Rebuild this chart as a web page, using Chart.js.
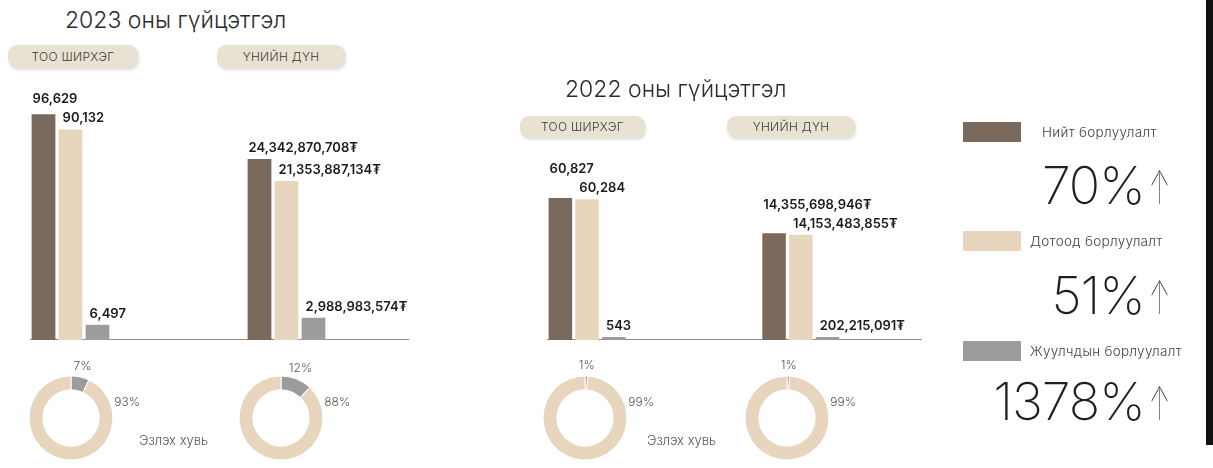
<!DOCTYPE html>
<html>
<head>
<meta charset="utf-8">
<script src="https://cdn.jsdelivr.net/npm/chart.js@4.4.1/dist/chart.umd.min.js"></script>
<style>
  html, body { margin: 0; padding: 0; background: #fff; }
  body { width: 1213px; height: 468px; position: relative; overflow: hidden; font-family: Inter, 'DejaVu Sans', sans-serif; color: #333; }
  .abs { position: absolute; }
  .title { font-size: 23px; font-weight: 300; color: #2b2b2b; white-space: nowrap; z-index: 2; }
  .pill { background: #e9e2d3; border-radius: 9px; box-shadow: 1px 2px 3px rgba(0,0,0,0.13);
          font-size: 12px; font-weight: 300; color: #3a3a3a; text-align: center; letter-spacing: 0.3px; z-index: 2; }
  .share-note { font-size: 13px; font-weight: 300; color: #555; white-space: nowrap; }
  .swatch { width: 58px; height: 20px; }
  .leg-text { font-size: 13.5px; font-weight: 300; color: #444; white-space: nowrap; letter-spacing: 0.3px; }
  .growth { font-size: 52px; font-weight: 200; color: #1e1e1e; white-space: nowrap; text-align: right; width: 300px; line-height: 1; letter-spacing: -1px; }
  .arrow { display: inline-block; font-size: 46px; font-weight: 100; transform: scaleX(0.55); transform-origin: left center; margin-left: 4px; margin-right: -14px; }
</style>
</head>
<body>

<div class="abs title" style="left:65px;top:6px">2023 оны гүйцэтгэл</div>
<div class="abs pill" style="left:8px;top:45px;width:130px;height:23px;line-height:23px" id="p23a"></div>
<div class="abs pill" style="left:217px;top:45px;width:128px;height:23px;line-height:23px" id="p23b"></div>

<div class="abs title" style="left:565px;top:75px">2022 оны гүйцэтгэл</div>
<div class="abs pill" style="left:520px;top:116px;width:125px;height:22px;line-height:22px" id="p22a"></div>
<div class="abs pill" style="left:727px;top:116px;width:128px;height:22px;line-height:22px" id="p22b"></div>

<div class="abs" style="left:30px;top:80px;width:398px;height:260px"><canvas id="bars2023"></canvas></div>
<div class="abs" style="left:547px;top:80px;width:394px;height:260px"><canvas id="bars2022"></canvas></div>

<div class="abs" style="left:-9px;top:353px;width:160px;height:130px"><canvas id="pie23a"></canvas></div>
<div class="abs" style="left:201px;top:353px;width:160px;height:130px"><canvas id="pie23b"></canvas></div>
<div class="abs" style="left:505px;top:353px;width:160px;height:130px"><canvas id="pie22a"></canvas></div>
<div class="abs" style="left:707px;top:353px;width:160px;height:130px"><canvas id="pie22b"></canvas></div>

<div class="abs share-note" style="left:139px;top:432px">Эзлэх хувь</div>
<div class="abs share-note" style="left:647px;top:432px">Эзлэх хувь</div>

<div id="legend"></div>
<div class="abs" style="left:1206px;top:0;width:7px;height:445px;background:#111"></div>

<script>
'use strict';

// ---- data ----
const seriesNames  = ['Нийт борлуулалт', 'Дотоод борлуулалт', 'Жуулчдын борлуулалт'];
const groupLabels  = ['ТОО ШИРХЭГ', 'ҮНИЙН ДҮН'];
const qty2023      = [96629, 90132, 6497];
const amount2023   = [24342870708, 21353887134, 2988983574];
const qty2022      = [60827, 60284, 543];
const amount2022   = [14355698946, 14153483855, 202215091];
const shareLabels  = ['Жуулчдын', 'Дотоод'];
const share2023Qty = [7, 93];
const share2023Amt = [12, 88];
const share2022Qty = [1, 99];
const share2022Amt = [1, 99];
const growthPct    = ['70%', '51%', '1378%'];

// ---- style ----
const COLORS = ['#7a695d', '#e7d6bd', '#9c9c9c'];
const SLOTS = 14;        // bar slots along the baseline
const AMOUNT_START = 8;  // slot where the amount group begins

document.getElementById('p23a').textContent = groupLabels[0];
document.getElementById('p23b').textContent = groupLabels[1];
document.getElementById('p22a').textContent = groupLabels[0];
document.getElementById('p22b').textContent = groupLabels[1];

const fmt = v => v.toLocaleString('en-US');

// value labels above bars; a label is lifted when the next bar is almost as tall
const barLabels = {
  id: 'barLabels',
  afterDatasetsDraw(chart) {
    const ctx = chart.ctx;
    ctx.save();
    ctx.font = '600 13px Inter, "DejaVu Sans", sans-serif';
    ctx.fillStyle = '#1b1b1b';
    ctx.textAlign = 'left';
    ctx.textBaseline = 'alphabetic';
    chart.data.datasets.forEach((ds, di) => {
      const items = [];
      chart.getDatasetMeta(di).data.forEach((el, i) => {
        const v = ds.data[i];
        if (v == null) return;
        items.push({
          txt: fmt(v) + (ds.yAxisID === 'yV' ? '₮' : ''),
          x: el.x - el.width / 2 + (items.length ? 4 : 1),
          y: el.y - 7
        });
      });
      for (let k = items.length - 1; k > 0; k--) {
        if (items[k - 1].y > items[k].y - 19) items[k - 1].y = items[k].y - 19;
      }
      items.forEach(it => ctx.fillText(it.txt, it.x, it.y));
    });
    ctx.restore();
  }
};

function buildBars(id, qty, amount) {
  const slots = [];
  const qtyData = [];
  const amtData = [];
  const colors = [];
  for (let i = 0; i < SLOTS; i++) {
    const ai = i - AMOUNT_START;
    const inQty = i < 3;
    const inAmt = ai >= 0 && ai < 3;
    slots.push(inQty ? seriesNames[i] : (inAmt ? seriesNames[ai] : ''));
    qtyData.push(inQty ? qty[i] : null);
    amtData.push(inAmt ? amount[ai] : null);
    colors.push(inQty ? COLORS[i] : (inAmt ? COLORS[ai] : '#fff'));
  }
  return new Chart(document.getElementById(id), {
    type: 'bar',
    data: {
      labels: slots,
      datasets: [
        { label: groupLabels[0], data: qtyData, yAxisID: 'yQ', backgroundColor: colors, grouped: false,
          barPercentage: 0.88, categoryPercentage: 1, minBarLength: 3 },
        { label: groupLabels[1], data: amtData, yAxisID: 'yV', backgroundColor: colors, grouped: false,
          barPercentage: 0.88, categoryPercentage: 1, minBarLength: 3 }
      ]
    },
    options: {
      responsive: true, maintainAspectRatio: false, animation: false,
      layout: { padding: { top: 10, right: 20, left: 0, bottom: 0 } },
      plugins: { legend: { display: false }, tooltip: { enabled: false } },
      scales: {
        x: { grid: { display: false, drawTicks: false }, ticks: { display: false },
             border: { display: true, color: '#8c8c8c', width: 2 } },
        yQ: { display: false, min: 0, max: 107000 },
        yV: { display: false, min: 0, max: 33600000000 }
      }
    },
    plugins: [barLabels]
  });
}

const pieLabels = {
  id: 'pieLabels',
  afterDraw(chart) {
    const ctx = chart.ctx;
    const arcs = chart.getDatasetMeta(0).data;
    const vals = chart.data.datasets[0].data;
    ctx.save();
    ctx.font = '300 12px Inter, sans-serif';
    ctx.fillStyle = '#555';
    ctx.textBaseline = 'middle';
    // small share: above its own slice
    const a0 = arcs[0];
    const m0 = (a0.startAngle + a0.endAngle) / 2;
    ctx.textAlign = 'center';
    ctx.fillText(vals[0] + '%', a0.x + Math.cos(m0) * (a0.outerRadius + 11), a0.y + Math.sin(m0) * (a0.outerRadius + 11));
    // large share: on the upper right of the ring
    const a1 = arcs[1];
    const m1 = -0.35;
    ctx.textAlign = 'left';
    ctx.fillText(vals[1] + '%', a1.x + Math.cos(m1) * (a1.outerRadius + 4), a1.y + Math.sin(m1) * (a1.outerRadius + 4));
    ctx.restore();
  }
};

function buildPie(id, share) {
  return new Chart(document.getElementById(id), {
    type: 'doughnut',
    data: {
      labels: shareLabels,
      datasets: [{ data: share, backgroundColor: [COLORS[2], COLORS[1]], borderWidth: 1, borderColor: '#fff' }]
    },
    options: {
      responsive: true, maintainAspectRatio: false, animation: false,
      radius: 42, cutout: '67%',
      plugins: { legend: { display: false }, tooltip: { enabled: false } }
    },
    plugins: [pieLabels]
  });
}

buildBars('bars2023', qty2023, amount2023);
buildBars('bars2022', qty2022, amount2022);
buildPie('pie23a', share2023Qty);
buildPie('pie23b', share2023Amt);
buildPie('pie22a', share2022Qty);
buildPie('pie22b', share2022Amt);

// legend with growth figures
const legendTops = [122, 231, 341];
const growthTops = [160, 270, 376];
let html = '';
seriesNames.forEach((name, i) => {
  const textLeft = i === 0 ? 1042 : 1030;
  html += `<div class="abs swatch" style="left:963px;top:${legendTops[i]}px;background:${COLORS[i]}"></div>`;
  html += `<div class="abs leg-text" style="left:${textLeft}px;top:${legendTops[i] + 2}px">${name}</div>`;
  html += `<div class="abs growth" style="left:872px;top:${growthTops[i]}px">${growthPct[i]}<span class="arrow">↑</span></div>`;
});
document.getElementById('legend').innerHTML = html;
</script>
</body>
</html>
